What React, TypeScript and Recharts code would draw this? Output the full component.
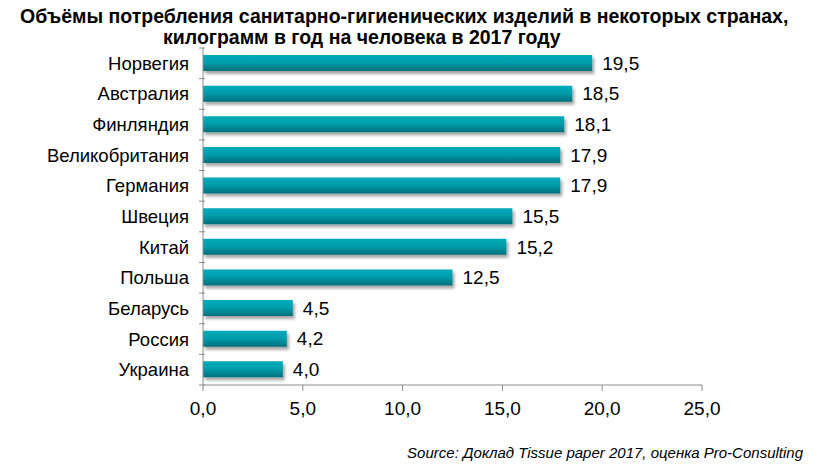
import React from 'react';
import { BarChart, Bar, XAxis, YAxis, LabelList } from 'recharts';

const countries = ['Норвегия', 'Австралия', 'Финляндия', 'Великобритания', 'Германия', 'Швеция', 'Китай', 'Польша', 'Беларусь', 'Россия', 'Украина'];
const values = [19.5, 18.5, 18.1, 17.9, 17.9, 15.5, 15.2, 12.5, 4.5, 4.2, 4.0];
const xTicks = [0, 5, 10, 15, 20, 25];

const titleLine1 = 'Объёмы потребления санитарно-гигиенических изделий в некоторых странах,';
const titleLine2 = 'килограмм в год на человека в 2017 году';
const sourceText = 'Source: Доклад Tissue paper 2017, оценка Pro-Consulting';

const data = countries.map((c, i) => ({ name: c, value: values[i] }));

const W = 817;
const H = 467;
const M = { top: 48, right: 115, bottom: 52, left: 0 };
const band = (385 - M.top) / countries.length;

const fmt = (v: number) => v.toFixed(1).replace('.', ',');
const FONT = "'Liberation Sans', Arial, sans-serif";

const YTick = (props: any) => {
  const { x, y, payload, index } = props;
  const ax = x + 10;
  return (
    <g>
      <line x1={ax - 6} x2={ax} y1={y - band / 2} y2={y - band / 2} stroke="#8c8c8c" />
      {index === countries.length - 1 && (
        <line x1={ax - 6} x2={ax} y1={y + band / 2} y2={y + band / 2} stroke="#8c8c8c" />
      )}
      <text x={x - 6} y={y} dy={6.5} textAnchor="end" fontSize={18.5} fill="#000" fontFamily={FONT}>
        {payload.value}
      </text>
    </g>
  );
};

export default function App() {
  return (
    <div style={{ position: 'absolute', left: 0, top: 0, width: W, height: H, background: '#fff', fontFamily: FONT }}>
      <div style={{ position: 'absolute', left: 20, top: 6, whiteSpace: 'nowrap', fontFamily: FONT, fontWeight: 'bold', fontSize: 19.5, lineHeight: '21px', color: '#000' }}>
        {titleLine1}
      </div>
      <div style={{ position: 'absolute', left: 163, top: 27, whiteSpace: 'nowrap', fontFamily: FONT, fontWeight: 'bold', fontSize: 19.5, lineHeight: '21px', color: '#000' }}>
        {titleLine2}
      </div>
      <BarChart width={W} height={H} data={data} layout="vertical" margin={M} barCategoryGap={0}>
        <defs>
          <linearGradient id="barGrad" x1="0" y1="0" x2="0" y2="1">
            <stop offset="0%" stopColor="#00aab9" />
            <stop offset="45%" stopColor="#009eac" />
            <stop offset="100%" stopColor="#006f7b" />
          </linearGradient>
          <filter id="shadow" x="-5%" y="-30%" width="110%" height="180%">
            <feDropShadow dx="2" dy="3" stdDeviation="1.8" floodColor="#000" floodOpacity="0.35" />
          </filter>
        </defs>
        <XAxis
          type="number"
          domain={[0, 25]}
          ticks={xTicks}
          tickFormatter={fmt}
          axisLine={{ stroke: '#8c8c8c' }}
          tickLine={{ stroke: '#8c8c8c' }}
          tickSize={6}
          tick={{ fill: '#000', fontSize: 19, dy: 9, fontFamily: FONT }}
          interval={0}
        />
        <YAxis
          type="category"
          dataKey="name"
          width={203}
          axisLine={{ stroke: '#8c8c8c' }}
          tickLine={false}
          tick={<YTick />}
          interval={0}
        />
        <Bar dataKey="value" fill="url(#barGrad)" barSize={16} isAnimationActive={false} filter="url(#shadow)">
          <LabelList dataKey="value" position="right" offset={10} formatter={(v: any) => fmt(Number(v))} fill="#000" fontSize={19} fontFamily={FONT} />
        </Bar>
      </BarChart>
      <div style={{ position: 'absolute', right: 14, top: 444, fontSize: 15, fontStyle: 'italic', color: '#000', fontFamily: FONT }}>
        {sourceText}
      </div>
    </div>
  );
}
